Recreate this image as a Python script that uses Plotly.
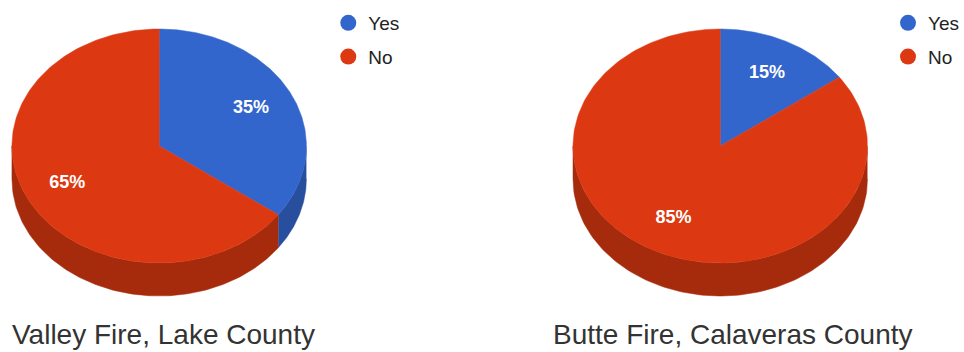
import numpy as np
import plotly.graph_objects as go

# ---- data ----
categories = ["Yes", "No"]
valley_values = [35, 65]
butte_values = [15, 85]
titles = ["Valley Fire, Lake County", "Butte Fire, Calaveras County"]

TOP = {"Yes": "#3366CC", "No": "#DC3912"}
SIDE = {"Yes": "#274f9e", "No": "#a62a0c"}

W, H = 964, 352
fig = go.Figure()


def add_pie(values, cx, cy, rx, ry, depth, legend_name):
    total = float(sum(values))
    start = 0.0
    slices = []
    for cat, v in zip(categories, values):
        a0 = start
        a1 = start + v / total * 360.0
        start = a1
        slices.append((cat, v, a0, a1))
    # side walls (visible lower half of ellipse: 90..270 deg clockwise from top)
    for cat, v, a0, a1 in slices:
        lo, hi = max(a0, 90.0), min(a1, 270.0)
        if hi > lo:
            t = np.radians(np.linspace(lo, hi, 120))
            xs = cx + rx * np.sin(t)
            ys = cy - ry * np.cos(t)
            X = np.concatenate([xs, xs[::-1]])
            Y = np.concatenate([ys, ys[::-1] + depth])
            fig.add_trace(go.Scatter(x=X, y=Y, fill="toself", fillcolor=SIDE[cat],
                                     line=dict(width=0.5, color=SIDE[cat]), mode="lines",
                                     showlegend=False, hoverinfo="skip"))
    # top faces
    for cat, v, a0, a1 in slices:
        t = np.radians(np.linspace(a0, a1, 200))
        xs = np.concatenate([[cx], cx + rx * np.sin(t), [cx]])
        ys = np.concatenate([[cy], cy - ry * np.cos(t), [cy]])
        fig.add_trace(go.Scatter(x=xs, y=ys, fill="toself", fillcolor=TOP[cat],
                                 line=dict(width=0.5, color=TOP[cat]), mode="lines",
                                 showlegend=False, hoverinfo="skip"))
    # labels
    lx, ly, lt = [], [], []
    for cat, v, a0, a1 in slices:
        m = np.radians((a0 + a1) / 2)
        lx.append(cx + 0.7 * rx * np.sin(m))
        ly.append(cy - 0.7 * ry * np.cos(m))
        lt.append(f"<b>{round(v / total * 100)}%</b>")
    fig.add_trace(go.Scatter(x=lx, y=ly, text=lt, mode="text",
                             textfont=dict(family="Liberation Sans, Arial", size=18, color="white"),
                             showlegend=False, hoverinfo="skip"))
    # legend entries
    for cat in categories:
        fig.add_trace(go.Scatter(x=[None], y=[None], mode="markers", name=cat,
                                 marker=dict(size=16, color=TOP[cat]),
                                 legend=legend_name, legendgroup=legend_name + cat))


add_pie(valley_values, 160, 146, 148, 117, 33, "legend")
add_pie(butte_values, 724, 146, 148, 117, 33, "legend2")

legend_common = dict(xanchor="left", yanchor="top", bgcolor="rgba(0,0,0,0)",
                     font=dict(family="Liberation Sans, Arial", size=19, color="#222222"),
                     tracegroupgap=6, itemclick=False, itemdoubleclick=False)

title_font = dict(family="Liberation Sans, Arial", size=28, color="#333333")

fig.update_layout(
    width=W, height=H,
    margin=dict(l=0, r=0, t=0, b=0),
    paper_bgcolor="white", plot_bgcolor="white",
    xaxis=dict(range=[0, W], visible=False, fixedrange=True),
    yaxis=dict(range=[H, 0], visible=False, fixedrange=True),
    legend=dict(x=330 / W, y=1 - 4 / H, **legend_common),
    legend2=dict(x=893 / W, y=1 - 4 / H, **legend_common),
    annotations=[
        dict(text=titles[0], x=164 / W, y=1 - 334 / H, xref="paper", yref="paper",
             showarrow=False, xanchor="center", yanchor="middle", font=title_font),
        dict(text=titles[1], x=737 / W, y=1 - 334 / H, xref="paper", yref="paper",
             showarrow=False, xanchor="center", yanchor="middle", font=title_font),
    ],
)

fig.write_html(
    "out.html",
    config={"displayModeBar": False, "responsive": False},
    post_script="document.body.style.margin='0';document.body.style.overflow='hidden';",
)
